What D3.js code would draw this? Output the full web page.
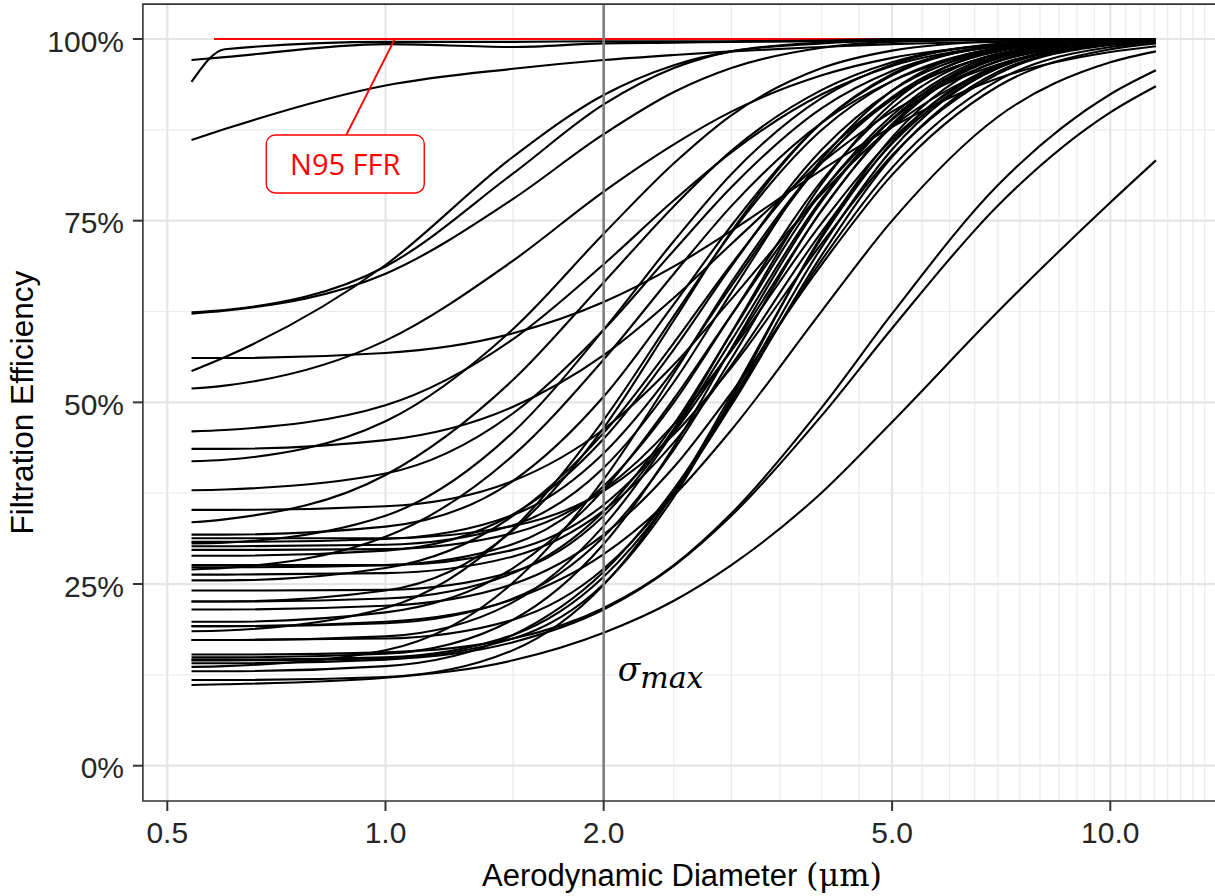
<!DOCTYPE html>
<html><head><meta charset="utf-8">
<script src="https://cdn.jsdelivr.net/npm/d3@7"></script>
<style>body{margin:0;background:#fff}</style>
</head><body><svg id="chart" width="1215" height="896"></svg>
<script>
// ---- data ----
const sizeGrid = [0.54, 0.6, 1, 1.5, 2, 2.5, 3, 4, 5, 7, 10, 11.56];

const topCurves = [
  [94.1, 98.6, 99.6, 99.6, 99.7, 99.7, 99.7, 99.8, 100, 100, 100, 100],
  [97.1, 97.5, 99.3, 98.9, 99.4, 99.5, 99.6, 99.7, 99.9, 100, 100, 100],
  [86.1, 87.6, 93.6, 95.9, 97.1, 97.8, 98.3, 98.9, 99.3, 99.6, 99.8, 99.9]
];

const upperCurves = [
  [62.4, 62.7, 68.7, 81.5, 91.0, 96.0, 98.3, 99.5, 99.8, 100, 100, 100],
  [62.2, 62.6, 67.7, 78.0, 86.9, 92.7, 96.0, 98.8, 99.6, 99.9, 100, 100],
  [56.1, 56.1, 56.8, 59.5, 63.8, 68.7, 73.6, 82.0, 87.9, 94.6, 98.2, 99.0],
  [54.3, 56.2, 68.9, 83.8, 92.3, 96.4, 98.3, 99.4, 99.8, 100, 100, 100],
  [51.9, 52.3, 58.5, 69.5, 79.0, 85.5, 90.0, 95.0, 97.4, 99.2, 99.9, 100],
  [46.0, 46.2, 49.6, 58.7, 69.0, 77.8, 84.4, 92.4, 96.3, 99.0, 99.8, 99.9],
  [43.6, 43.6, 44.8, 49.4, 56.5, 64.4, 71.8, 83.0, 90.0, 96.5, 99.2, 99.6],
  [41.9, 42.1, 47.4, 60.1, 73.2, 82.9, 89.5, 96.0, 98.4, 99.7, 100, 100],
  [37.9, 38.0, 40.2, 48.5, 60.0, 70.9, 79.6, 90.5, 95.6, 99.0, 99.9, 100],
  [35.2, 35.2, 35.7, 39.2, 46.3, 55.2, 64.2, 78.7, 87.9, 96.2, 99.3, 99.7],
  [33.5, 33.9, 40.0, 53.1, 66.5, 77.0, 84.6, 93.0, 96.8, 99.3, 99.9, 100]
];

const lowerCurves = [
  [31.8, 31.8, 32.9, 39.2, 50.8, 63.5, 74.3, 88.5, 95.0, 99.0, 99.9, 100],
  [31.3, 31.3, 31.3, 33.0, 37.8, 45.6, 54.8, 71.9, 84.0, 95.2, 99.2, 99.7],
  [30.8, 30.8, 31.2, 34.5, 43.0, 54.5, 66.0, 83.0, 92.0, 98.3, 99.8, 100],
  [30.6, 30.7, 34.4, 45.9, 60.0, 72.2, 81.4, 91.9, 96.5, 99.3, 99.9, 100],
  [30.2, 30.2, 30.4, 33.1, 41.0, 52.8, 65.1, 83.5, 92.9, 98.8, 99.9, 100],
  [29.7, 29.7, 29.8, 32.0, 38.0, 47.0, 57.1, 74.7, 86.2, 96.2, 99.4, 99.8],
  [28.9, 28.9, 29.6, 34.6, 45.0, 57.3, 68.7, 84.8, 92.9, 98.5, 99.9, 100],
  [27.6, 27.6, 27.6, 29.7, 35.9, 45.9, 57.3, 76.4, 88.3, 97.3, 99.7, 99.9],
  [27.3, 27.3, 27.6, 30.5, 38.5, 50.0, 62.0, 80.5, 90.5, 98.0, 99.8, 100],
  [27.0, 27.2, 31.5, 42.7, 55.9, 67.7, 77.0, 88.5, 94.2, 98.5, 99.7, 100],
  [26.3, 26.3, 26.5, 28.8, 35.1, 44.5, 55.1, 73.5, 85.6, 96.0, 99.4, 99.8],
  [25.5, 25.5, 27.2, 34.4, 45.8, 58.2, 69.0, 83.9, 91.9, 97.9, 99.7, 99.9],
  [24.1, 24.1, 24.2, 26.7, 34.4, 46.4, 59.6, 80.1, 91.2, 98.4, 99.8, 100],
  [22.6, 22.6, 24.1, 32.4, 46.5, 61.3, 73.5, 88.5, 95.2, 99.1, 99.9, 100],
  [22.6, 22.6, 23.0, 26.5, 35.0, 47.0, 59.5, 79.0, 89.5, 97.8, 99.7, 99.9],
  [21.5, 21.5, 22.0, 25.0, 31.8, 41.1, 51.3, 69.0, 81.3, 93.5, 98.6, 99.4],
  [19.8, 19.8, 21.1, 27.2, 38.0, 50.5, 62.0, 79.1, 88.9, 96.9, 99.4, 99.8],
  [19.2, 19.2, 19.8, 22.9, 29.1, 37.2, 46.2, 62.6, 75.0, 89.3, 96.8, 98.3],
  [19.2, 19.2, 19.6, 23.0, 31.5, 43.5, 56.0, 76.5, 88.0, 97.5, 99.7, 99.9],
  [18.5, 18.6, 21.7, 32.6, 47.6, 61.9, 73.3, 87.5, 94.2, 98.7, 99.8, 100],
  [17.3, 17.3, 17.5, 20.1, 27.1, 37.7, 49.6, 70.3, 83.8, 95.5, 99.3, 99.8],
  [17.3, 17.3, 17.8, 22.5, 33.0, 46.0, 58.5, 78.0, 89.0, 97.6, 99.7, 99.9],
  [15.3, 15.3, 15.6, 17.5, 21.7, 27.6, 34.7, 49.3, 62.2, 79.9, 92.4, 95.7],
  [14.9, 14.9, 15.4, 20.1, 30.5, 43.9, 57.4, 77.7, 89.0, 97.4, 99.7, 99.9],
  [14.6, 14.6, 14.9, 18.0, 26.0, 37.5, 50.1, 71.4, 84.8, 96.0, 99.4, 99.7],
  [14.5, 14.5, 14.8, 17.5, 25.0, 37.0, 50.5, 73.0, 86.5, 97.0, 99.6, 99.9],
  [14.1, 14.1, 14.6, 17.0, 21.5, 27.5, 34.4, 48.2, 60.2, 77.1, 89.9, 93.5],
  [13.6, 13.7, 15.9, 25.2, 39.4, 54.0, 66.5, 83.1, 91.7, 97.9, 99.7, 99.9],
  [13.0, 13.0, 13.7, 18.0, 26.7, 38.1, 50.0, 69.6, 82.3, 94.3, 98.9, 99.5],
  [11.8, 11.8, 12.2, 15.9, 24.9, 37.6, 51.0, 72.7, 85.8, 96.4, 99.3, 99.8],
  [11.1, 11.2, 12.1, 14.5, 18.3, 22.7, 27.6, 37.6, 47.3, 62.5, 77.5, 83.3]
];

const ffrDiameters = [0.58, 1, 2, 5, 11.56];
const ffrEfficiency = [100, 100, 100, 100, 100];

const xMajorBreaks = [0.5, 1, 2, 5, 10];
const xTickLabels = ["0.5", "1.0", "2.0", "5.0", "10.0"];
const yMajorBreaks = [0, 25, 50, 75, 100];
const yTickLabels = ["0%", "25%", "50%", "75%", "100%"];
const yMinorBreaks = [12.5, 37.5, 62.5, 87.5];
const sigmaMaxDiameter = 2.0;
const ffrLabel = {text: "N95 FFR", x: 0.88, y: 82.8, pointX: 1.03, pointY: 100};

// ---- scales ----
const svg = d3.select("#chart");
const x = d3.scaleLog().domain([0.5, 10]).range([167.3, 1110.3]);
const y = d3.scaleLinear().domain([0, 100]).range([765.7, 39]);
const xLim = [0.4627, 14.0];
const yLim = [-4.85, 104.8];
const pL = x(xLim[0]), pR = x(xLim[1]), pT = y(yLim[1]), pB = y(yLim[0]);

svg.append("rect").attr("width", 1215).attr("height", 896).attr("fill", "#fff");

svg.append("defs").append("clipPath").attr("id", "panel")
  .append("rect").attr("x", pL).attr("y", pT).attr("width", pR - pL).attr("height", pB - pT);

const grid = svg.append("g").attr("clip-path", "url(#panel)");
const xMinor = d3.range(1.5, 14.01, 0.5).filter(v => !xMajorBreaks.includes(v));
grid.selectAll(".xmin").data(xMinor).join("line")
  .attr("x1", d => x(d)).attr("x2", d => x(d)).attr("y1", pT).attr("y2", pB)
  .attr("stroke", "#ebebeb").attr("stroke-width", 1.2);
grid.selectAll(".ymin").data(yMinorBreaks).join("line")
  .attr("x1", pL).attr("x2", pR).attr("y1", d => y(d)).attr("y2", d => y(d))
  .attr("stroke", "#ebebeb").attr("stroke-width", 1.2);
grid.selectAll(".xmaj").data(xMajorBreaks).join("line")
  .attr("x1", d => x(d)).attr("x2", d => x(d)).attr("y1", pT).attr("y2", pB)
  .attr("stroke", "#e5e5e5").attr("stroke-width", 2.2);
grid.selectAll(".ymaj").data(yMajorBreaks).join("line")
  .attr("x1", pL).attr("x2", pR).attr("y1", d => y(d)).attr("y2", d => y(d))
  .attr("stroke", "#e5e5e5").attr("stroke-width", 2.2);

const plot = svg.append("g").attr("clip-path", "url(#panel)");

// N95 FFR red line
const ffrLine = d3.line().x((d, i) => x(ffrDiameters[i])).y(d => y(d));
plot.append("path").attr("d", ffrLine(ffrEfficiency))
  .attr("fill", "none").attr("stroke", "#ff0000").attr("stroke-width", 2.2);

// black curves
const line = d3.line().x((d, i) => x(sizeGrid[i])).y(d => y(d)).curve(d3.curveMonotoneX);
const allCurves = [...lowerCurves, ...upperCurves, ...topCurves];
plot.selectAll(".curve").data(allCurves).join("path")
  .attr("d", d => line(d)).attr("fill", "none")
  .attr("stroke", "#000").attr("stroke-width", 2.1).attr("stroke-linejoin", "round");

// sigma max vertical line
plot.append("line").attr("x1", x(sigmaMaxDiameter)).attr("x2", x(sigmaMaxDiameter))
  .attr("y1", pT).attr("y2", pB).attr("stroke", "#808080").attr("stroke-width", 2.6);

// panel border
svg.append("path").attr("d", `M${pR},${pT}H${pL}V${pB}H${pR}`)
  .attr("fill", "none").attr("stroke", "#333").attr("stroke-width", 1.6);

// ticks
svg.selectAll(".yt").data(yMajorBreaks).join("line")
  .attr("x1", pL - 10).attr("x2", pL).attr("y1", d => y(d)).attr("y2", d => y(d))
  .attr("stroke", "#333").attr("stroke-width", 2);
svg.selectAll(".xt").data(xMajorBreaks).join("line")
  .attr("x1", d => x(d)).attr("x2", d => x(d)).attr("y1", pB).attr("y2", pB + 10)
  .attr("stroke", "#333").attr("stroke-width", 2);

const font = "'Liberation Sans', Arial, sans-serif";
svg.selectAll(".yl").data(yMajorBreaks).join("text")
  .attr("x", 124).attr("y", d => y(d) + 12.5).attr("text-anchor", "end")
  .attr("font-family", font).attr("font-size", 30).attr("fill", "#262626")
  .text((d, i) => yTickLabels[i]);
svg.selectAll(".xl").data(xMajorBreaks).join("text")
  .attr("x", d => x(d)).attr("y", 843).attr("text-anchor", "middle")
  .attr("font-family", font).attr("font-size", 30).attr("fill", "#262626")
  .text((d, i) => xTickLabels[i]);

// axis titles
const xt = svg.append("text").attr("x", 682).attr("y", 886)
  .attr("text-anchor", "middle").attr("font-size", 31).attr("fill", "#000");
xt.append("tspan").attr("font-family", font).text("Aerodynamic Diameter ");
xt.append("tspan").attr("font-family", "'DejaVu Serif', serif").attr("font-size", 32).text("(μm)");

svg.append("text").attr("transform", `translate(33,${(pT + pB) / 2}) rotate(-90)`)
  .attr("text-anchor", "middle").attr("font-family", font).attr("font-size", 31.5)
  .attr("fill", "#000").text("Filtration Efficiency");

// sigma max label
const sg = svg.append("text").attr("x", x(sigmaMaxDiameter) + 14).attr("y", 681)
  .attr("font-family", "'DejaVu Serif', serif").attr("font-style", "italic").attr("fill", "#000");
sg.append("tspan").attr("font-size", 33).text("σ");
sg.append("tspan").attr("font-size", 30).attr("dy", 7).text("max");

// N95 FFR annotation
const lx = x(ffrLabel.x), ly = y(ffrLabel.y);
const bw = 158, bh = 58;
svg.append("line").attr("x1", x(ffrLabel.pointX)).attr("y1", y(ffrLabel.pointY))
  .attr("x2", lx + 1).attr("y2", ly - bh / 2)
  .attr("stroke", "#ff0000").attr("stroke-width", 1.8);
svg.append("rect").attr("x", lx - bw / 2).attr("y", ly - bh / 2).attr("width", bw).attr("height", bh)
  .attr("rx", 9).attr("fill", "#fff").attr("stroke", "#ff0000").attr("stroke-width", 1.4);
svg.append("text").attr("x", lx).attr("y", ly + 11).attr("text-anchor", "middle")
  .attr("font-family", "'Open Sans', sans-serif").attr("font-size", 29).attr("fill", "#ff0000")
  .text(ffrLabel.text);
</script></body></html>
